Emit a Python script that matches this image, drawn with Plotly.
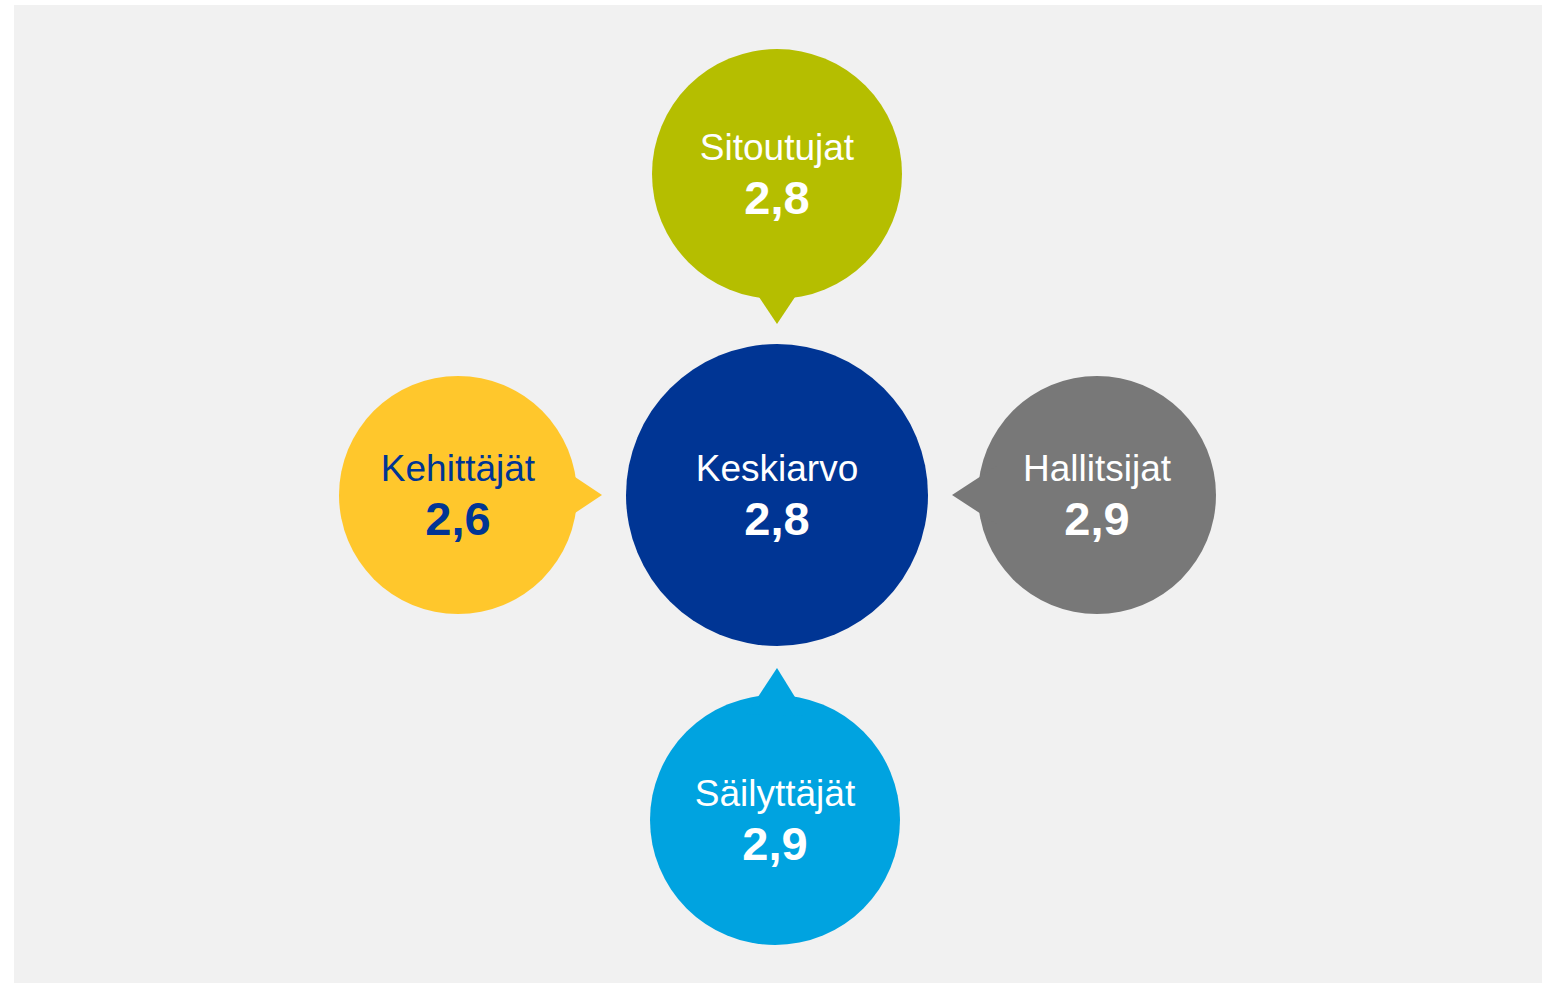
import numpy as np
import plotly.graph_objects as go

# Data
groups = ["Sitoutujat", "Kehittäjät", "Keskiarvo", "Hallitsijat", "Säilyttäjät"]
scores = [2.8, 2.6, 2.8, 2.9, 2.9]

# Layout of the bubbles (pixel coordinates on the 1552x984 page)
centers_x = [777, 458, 777, 1097, 775]
centers_y = [174, 495, 495, 495, 820]
radii = [125, 119, 151, 119, 125]
# pointer tip for each bubble (None for the middle one)
tips = [(777, 324), (602, 495), None, (952, 495), (777, 668)]
fills = ["#b5be00", "#ffc72c", "#003594", "#787878", "#00a3e0"]
text_colors = ["white", "#003594", "white", "white", "white"]

W, H = 1552, 984

fig = go.Figure()

shapes = [
    dict(type="rect", x0=14, x1=1542, y0=5, y1=983,
         fillcolor="#f1f1f1", line=dict(width=0), layer="below")
]

for cx, cy, r, tip, col in zip(centers_x, centers_y, radii, tips, fills):
    shapes.append(dict(type="circle", x0=cx - r, x1=cx + r, y0=cy - r, y1=cy + r,
                       fillcolor=col, line=dict(width=0), layer="below"))
    if tip is not None:
        tx, ty = tip
        # direction from centre to tip
        dx, dy = tx - cx, ty - cy
        d = np.hypot(dx, dy)
        ux, uy = dx / d, dy / d
        # base of the triangle sits a bit inside the circle
        bx, by = cx + ux * (r - 20), cy + uy * (r - 20)
        half = 30
        p1 = (bx - uy * half, by + ux * half)
        p2 = (bx + uy * half, by - ux * half)
        path = f"M {p1[0]},{p1[1]} L {tx},{ty} L {p2[0]},{p2[1]} Z"
        shapes.append(dict(type="path", path=path, fillcolor=col,
                           line=dict(width=0), layer="below"))

# Labels
fig.add_trace(
    go.Scatter(
        x=centers_x,
        y=[c - 23 for c in centers_y],
        mode="text",
        text=groups,
        textfont=dict(family="Liberation Sans, Arial", size=37, color=text_colors),
        hoverinfo="skip",
        showlegend=False,
    )
)

# Values with a decimal comma
fig.add_trace(
    go.Scatter(
        x=centers_x,
        y=[c + 28 for c in centers_y],
        mode="text",
        text=[f"{v:.1f}".replace(".", ",") for v in scores],
        textfont=dict(family="Liberation Sans, Arial", size=47, color=text_colors,
                      weight="bold"),
        hoverinfo="skip",
        showlegend=False,
    )
)

fig.update_layout(
    width=W,
    height=H,
    margin=dict(l=0, r=0, t=0, b=0),
    paper_bgcolor="white",
    plot_bgcolor="white",
    shapes=shapes,
    showlegend=False,
)
fig.update_xaxes(range=[0, W], visible=False, fixedrange=True)
fig.update_yaxes(range=[H, 0], visible=False, fixedrange=True)

fig.write_html(
    "out.html",
    config=dict(displayModeBar=False),
    post_script="document.body.style.margin='0';document.body.style.overflow='hidden';",
)
